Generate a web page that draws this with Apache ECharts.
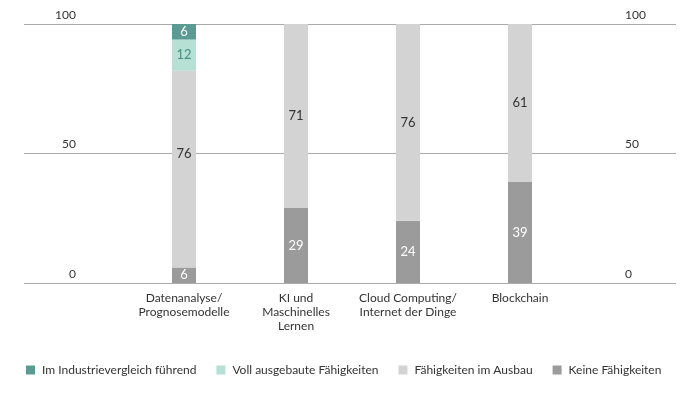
<!DOCTYPE html>
<html><head><meta charset="utf-8">
<script src="https://cdn.jsdelivr.net/npm/echarts@6/dist/echarts.min.js"></script>
<style>html,body{margin:0;padding:0;background:#fff}#c{width:700px;height:396px}</style>
</head><body><div id="c"></div>
<script>
const categories = ["Datenanalyse/\nPrognosemodelle", "KI und\nMaschinelles\nLernen", "Cloud Computing/\nInternet der Dinge", "Blockchain"];
const seriesNames = ["Im Industrievergleich führend", "Voll ausgebaute Fähigkeiten", "Fähigkeiten im Ausbau", "Keine Fähigkeiten"];
const keine = [6, 29, 24, 39];
const ausbau = [76, 71, 76, 61];
const voll = [12, null, null, null];
const fuehrend = [6, null, null, null];
const yTicks = [0, 50, 100];

const FONT = "Lato";
const colors = { fuehrend: "#5b9b93", voll: "#b5e0d3", ausbau: "#d3d3d3", keine: "#9b9b9b" };

const chart = echarts.init(document.getElementById('c'));
function bar(name, data, color, labelColor, extra) {
  return {
    name, type: 'bar', stack: 's', xAxisIndex: 1, yAxisIndex: 2, barWidth: 24,
    itemStyle: { color },
    label: { show: true, position: 'inside', color: labelColor, fontFamily: FONT, fontSize: 13 },
    data: data.map((v, i) => (extra && extra[i]) ? Object.assign({ value: v }, extra[i]) : v)
  };
}
chart.setOption({
  animation: false,
  textStyle: { fontFamily: FONT },
  legend: {
    bottom: 15, left: 21, itemWidth: 9, itemHeight: 9, itemGap: 20,
    icon: 'rect', textStyle: { fontFamily: FONT, fontSize: 12, color: '#333', padding: [0, 0, 0, 2] },
    data: [seriesNames[0], seriesNames[1], seriesNames[2], seriesNames[3]]
  },
  grid: [
    { left: 24, right: 24, top: 24, bottom: 113 },
    { left: 128, right: 124, top: 24, bottom: 113 }
  ],
  xAxis: [
    { type: 'value', gridIndex: 0, show: false, min: 0, max: 1 },
    { type: 'category', gridIndex: 1, data: categories,
      axisLine: { show: false }, axisTick: { show: false },
      axisLabel: { color: '#333', fontFamily: FONT, fontSize: 12, lineHeight: 14, margin: 8, interval: 0 } }
  ],
  yAxis: [
    { type: 'value', gridIndex: 0, position: 'left', min: 0, max: 100, interval: 50,
      axisLine: { show: false }, axisTick: { show: false },
      splitLine: { show: true, lineStyle: { color: '#aaaaaa', width: 1 } },
      axisLabel: { inside: true, margin: 52, align: 'right', verticalAlign: 'bottom', padding: [0, 0, 3, 0],
        color: '#333', fontFamily: FONT, fontSize: 12,
        formatter: v => yTicks.includes(v) ? String(v) : '' } },
    { type: 'value', gridIndex: 0, position: 'right', min: 0, max: 100, interval: 50,
      axisLine: { show: false }, axisTick: { show: false }, splitLine: { show: false },
      axisLabel: { inside: true, margin: 51, align: 'left', verticalAlign: 'bottom', padding: [0, 0, 3, 0],
        color: '#333', fontFamily: FONT, fontSize: 12,
        formatter: v => yTicks.includes(v) ? String(v) : '' } },
    { type: 'value', gridIndex: 1, min: 0, max: 100, show: false }
  ],
  series: [
    bar(seriesNames[3], keine, colors.keine, '#fff'),
    bar(seriesNames[2], ausbau, colors.ausbau, '#333', [{ label: { offset: [0, -15] } }]),
    bar(seriesNames[1], voll, colors.voll, '#4a8f86'),
    bar(seriesNames[0], fuehrend, colors.fuehrend, '#fff')
  ]
});
</script></body></html>
